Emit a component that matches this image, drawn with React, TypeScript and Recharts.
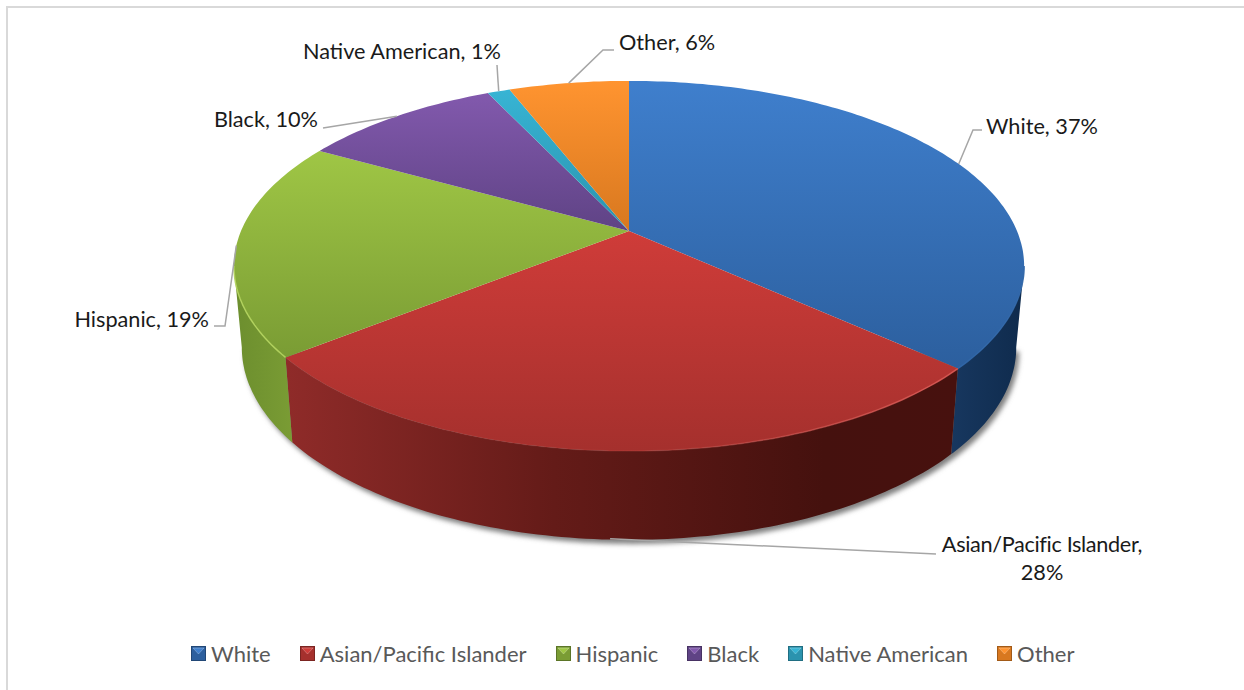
import React from 'react';
import { PieChart, Pie, Legend } from 'recharts';

const categories = ['White', 'Asian/Pacific Islander', 'Hispanic', 'Black', 'Native American', 'Other'];
const shares = [36.75, 27.51, 18.9, 9.84, 1.1, 5.9];
const topColors = [
  ['#3f7fcd', '#2c5f9e'], ['#cf3c39', '#a5302d'], ['#9fc645', '#7a9c34'],
  ['#8259ad', '#5f4385'], ['#37b4d4', '#2b93ae'], ['#ff9430', '#d8781f'],
];
const wallColors = [
  ['#17375f', '#0f2b4d'], ['#8f2b29', '#47110e'], ['#6c8e2e', '#7a9c34'],
  ['#4a3466', '#4a3466'], ['#1f7a90', '#1f7a90'], ['#b5651a', '#b5651a'],
];
const rimColors = ['#2f66a8', '#dd5a55', '#b4d45e', '#8259ad', '#37b4d4', '#ff9430'];

const data = categories.map((name, i) => ({ name, value: shares[i], fill: topColors[i][0] }));

// perspective of the disc
const K = 0.189, YR = 0.46, DROP = 80, SX = 0.98, SY = 1.04;
const CX = 629, CY = 231, A = 388;
const rad = Math.PI / 180;

const rim = (t: number, cx: number, cy: number, r: number) => {
  const X = Math.sin(t * rad), Y = Math.cos(t * rad), w = 1 + K * Y;
  return [cx + (r * X) / w, cy - (r * YR * Y) / w];
};
const base = (t: number, cx: number, cy: number, r: number) => {
  const [x, y] = rim(t, cx, cy, r);
  return [cx + SX * (x - cx), cy + DROP + SY * (y - cy)];
};
const range = (a: number, b: number) => {
  const out: number[] = [];
  for (let t = a; t < b; t += 1) out.push(t);
  out.push(b);
  return out;
};
const toPath = (pts: number[][]) => pts.map((p, i) => `${i ? 'L' : 'M'}${p[0].toFixed(1)} ${p[1].toFixed(1)}`).join('');
const FRONT_A = 100.9, FRONT_B = 259.1;

function Slice(props: any) {
  const { cx, cy, outerRadius: r, startAngle, endAngle, index } = props;
  const t1 = 90 - startAngle, t2 = 90 - endAngle;
  const top = range(t1, t2).map((t) => rim(t, cx, cy, r));
  const a = Math.max(t1, FRONT_A), b = Math.min(t2, FRONT_B);
  const hasWall = b > a;
  return (
    <g>
      <defs>
        <linearGradient id={`top-${index}`} x1="0" y1="0" x2="0" y2="1">
          <stop offset="0" stopColor={topColors[index][0]} />
          <stop offset="1" stopColor={topColors[index][1]} />
        </linearGradient>
        <linearGradient id={`wall-${index}`} x1="0" y1="0" x2="1" y2="0">
          <stop offset="0" stopColor={wallColors[index][0]} />
          {index === 1 && <stop offset="0.4" stopColor="#641b18" />}
          {index === 1 && <stop offset="0.8" stopColor="#45110e" />}
          <stop offset="1" stopColor={wallColors[index][1]} />
        </linearGradient>
        <linearGradient id={`edge-${index}`} x1="1" y1="0" x2="0" y2="0">
          <stop offset="0" stopColor={rimColors[index]} stopOpacity={0.9} />
          <stop offset="0.5" stopColor={rimColors[index]} stopOpacity={index === 1 ? 0.15 : 0.9} />
          <stop offset="1" stopColor={rimColors[index]} stopOpacity={index === 1 ? 0.05 : 0.9} />
        </linearGradient>
        <filter id="soft" x="-5%" y="-5%" width="110%" height="110%">
          <feGaussianBlur stdDeviation="2.5" />
        </filter>
      </defs>
      {index === 0 && (
        <path
          d={toPath(range(FRONT_A, FRONT_B).map((t) => base(t, cx, cy, r))) + 'Z'}
          transform="translate(3 4)"
          fill="#808080"
          filter="url(#soft)"
        />
      )}
      {hasWall && (
        <path
          d={toPath([...range(a, b).map((t) => rim(t, cx, cy, r)), ...range(a, b).reverse().map((t) => base(t, cx, cy, r))]) + 'Z'}
          fill={`url(#wall-${index})`}
        />
      )}
      <path d={`M${cx} ${cy}` + toPath(top).replace('M', 'L') + 'Z'} fill={`url(#top-${index})`} />
      {hasWall && (
        <path d={toPath(range(a, b).map((t) => rim(t, cx, cy, r)))} fill="none" stroke={`url(#edge-${index})`} strokeWidth={1.5} />
      )}
    </g>
  );
}

const FONT = 'Lato, sans-serif';
const LABEL_SIZE = 21.7;
// elbow points of each leader line and the text anchor of each label
const leaders: number[][][] = [
  [[973, 130], [982, 130]],
  [[936, 554]],
  [[225, 326], [214, 326]],
  [[323, 128]],
  [[497, 65]],
  [[603, 50], [614, 50]],
];
const labelPlaces = [
  { x: 986, y: 134, anchor: 'start' },
  { x: 1042, y: 552, anchor: 'middle' },
  { x: 209, y: 327, anchor: 'end' },
  { x: 318, y: 127, anchor: 'end' },
  { x: 501, y: 59, anchor: 'end' },
  { x: 619, y: 50, anchor: 'start' },
];

function SliceLabel(props: any) {
  const { cx, cy, outerRadius: r, midAngle, name, percent, index } = props;
  const t = 90 - midAngle;
  let start = rim(t, cx, cy, r);
  if (index === 1) {
    const b = base(t, cx, cy, r);
    start = [b[0] - 4, b[1] - 1];
  }
  const pct = `${Math.round(percent * 100)}%`;
  const place = labelPlaces[index];
  return (
    <g>
      <path d={toPath([start, ...leaders[index]])} fill="none" stroke="#a6a6a6" strokeWidth={1.5} />
      {index === 1 ? (
        <text x={place.x} y={place.y} textAnchor="middle" fontFamily={FONT} fontSize={LABEL_SIZE} fill="#1a1a1a">
          <tspan x={place.x} letterSpacing={-0.35}>{`${name},`}</tspan>
          <tspan x={place.x} dy={28}>{pct}</tspan>
        </text>
      ) : (
        <text x={place.x} y={place.y} textAnchor={place.anchor as any} fontFamily={FONT} fontSize={LABEL_SIZE} fill="#1a1a1a">
          {`${name}, ${pct}`}
        </text>
      )}
    </g>
  );
}

function LegendRow({ payload }: any) {
  return (
    <div style={{ display: 'flex', alignItems: 'center', fontFamily: FONT, fontSize: 22, color: '#595959', whiteSpace: 'nowrap' }}>
      {(payload || []).map((p: any, i: number) => (
        <div key={i} style={{ display: 'flex', alignItems: 'center', marginRight: 29 }}>
          <svg width={15} height={15} style={{ marginRight: 5 }}>
            <rect x={0} y={0} width={15} height={15} fill={topColors[i][1]} />
            <rect x={0.5} y={0.5} width={14} height={14} fill="none" stroke="#00000040" />
            <path d="M2 2H13L7.5 8Z" fill={topColors[i][0]} stroke="#ffffff80" strokeWidth={0.5} />
          </svg>
          <span>{p.value}</span>
        </div>
      ))}
    </div>
  );
}

export default function App() {
  return (
    <div style={{ position: 'absolute', left: 0, top: 0, width: 1244, height: 690, overflow: 'hidden', background: '#fff' }}>
      <div style={{ position: 'absolute', left: 6, top: 6, width: 1300, height: 800, border: '2px solid #d9d9d9' }} />
      <div style={{ position: 'absolute', left: 0, top: 0 }}>
        <PieChart width={1244} height={690} margin={{ top: 0, right: 0, bottom: 0, left: 0 }}>
          <Pie
            data={data}
            dataKey="value"
            nameKey="name"
            cx={CX}
            cy={CY}
            innerRadius={0}
            outerRadius={A}
            startAngle={90}
            endAngle={-270}
            stroke="none"
            isAnimationActive={false}
            shape={Slice}
            label={SliceLabel}
            labelLine={false}
          />
          <Legend itemSorter={null} content={LegendRow as any} wrapperStyle={{ left: 191, top: 640, width: 960, bottom: 'auto' }} />
        </PieChart>
      </div>
    </div>
  );
}
